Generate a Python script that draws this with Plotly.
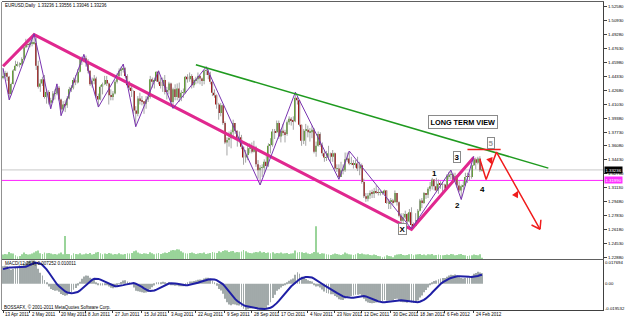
import numpy as np
import pandas as pd
import plotly.graph_objects as go

W, H = 625, 319

# ---------------- data (EUR/USD daily) ----------------
FIRST_OPEN = 1.4420
CLOSE = [
    1.4440, 1.4475, 1.4430, 1.4225, 1.4345, 1.4505, 1.4560, 1.4580, 1.4580, 1.4640, 1.4780, 1.4815, 1.4810,
    1.4830, 1.4830, 1.4830, 1.4560, 1.4310, 1.4350, 1.4400, 1.4190, 1.4250, 1.4120, 1.4150, 1.4230, 1.4230, 1.4300, 1.4160, 1.4040, 1.4100, 1.4090, 1.4170, 1.4280, 1.4300, 1.4390,
    1.4360, 1.4490, 1.4640, 1.4640, 1.4650, 1.4590, 1.4500, 1.4340, 1.4380, 1.4410, 1.4200, 1.4160, 1.4310, 1.4340, 1.4390, 1.4350, 1.4210, 1.4190, 1.4230, 1.4370, 1.4440, 1.4500,
    1.4520, 1.4530, 1.4440, 1.4330, 1.4300, 1.4260, 1.4030, 1.3990, 1.4170, 1.4150, 1.4140, 1.4110, 1.4160, 1.4190, 1.4400, 1.4370, 1.4380, 1.4490, 1.4370, 1.4320, 1.4390,
    1.4250, 1.4270, 1.4350, 1.4130, 1.4280, 1.4190, 1.4290, 1.4180, 1.4240, 1.4240, 1.4430, 1.4400, 1.4440, 1.4330, 1.4390, 1.4400, 1.4440, 1.4410, 1.4380, 1.4500, 1.4500, 1.4450, 1.4370,
    1.4240, 1.4210, 1.4100, 1.4000, 1.4090, 1.3880, 1.3650, 1.3680, 1.3700, 1.3770, 1.3880, 1.3790, 1.3690, 1.3710, 1.3600, 1.3470, 1.3500, 1.3580, 1.3600, 1.3540, 1.3590, 1.3390,
    1.3320, 1.3350, 1.3350, 1.3420, 1.3370, 1.3610, 1.3620, 1.3780, 1.3770, 1.3880, 1.3720, 1.3790, 1.3770, 1.3750, 1.3890, 1.3930, 1.3910, 1.3900, 1.4180, 1.4150, 1.3860,
    1.3670, 1.3790, 1.3800, 1.3770, 1.3770, 1.3800, 1.3540, 1.3610, 1.3750, 1.3620, 1.3520, 1.3470, 1.3470, 1.3520, 1.3480, 1.3520, 1.3340, 1.3340, 1.3240, 1.3320, 1.3320, 1.3450,
    1.3460, 1.3400, 1.3400, 1.3390, 1.3400, 1.3340, 1.3380, 1.3180, 1.3010, 1.2980, 1.3020, 1.3050, 1.3040, 1.3070, 1.3060, 1.3050, 1.3050, 1.3050, 1.3080, 1.2930, 1.2950, 1.2960,
    1.2940, 1.3050, 1.2940, 1.2780, 1.2720, 1.2760, 1.2800, 1.2710, 1.2820, 1.2670, 1.2660, 1.2730, 1.2840, 1.2960, 1.2930, 1.3050, 1.3030, 1.3100, 1.3130, 1.3210, 1.3130, 1.3080,
    1.3160, 1.3150, 1.3150, 1.3110, 1.3250, 1.3270, 1.3270, 1.3200, 1.3250, 1.3140, 1.3080, 1.3130, 1.3140, 1.3240, 1.3250, 1.3240, 1.3380, 1.3450, 1.3410, 1.3460, 1.3320,
    1.33236,
]
HIGH = [
    1.4530, 1.4500, 1.4490, 1.4440, 1.4360, 1.4520, 1.4620, 1.4610, 1.4600, 1.4660, 1.4800, 1.4880, 1.4880,
    1.4880, 1.4880, 1.4940, 1.4900, 1.4620, 1.4400, 1.4430, 1.4450, 1.4280, 1.4270, 1.4180, 1.4260, 1.4280, 1.4345, 1.4320, 1.4170, 1.4140, 1.4150, 1.4200, 1.4310, 1.4330, 1.4420,
    1.4450, 1.4520, 1.4650, 1.4670, 1.4695, 1.4680, 1.4640, 1.4500, 1.4420, 1.4450, 1.4430, 1.4230, 1.4330, 1.4360, 1.4440, 1.4440, 1.4360, 1.4280, 1.4260, 1.4390, 1.4470, 1.4530,
    1.4550, 1.4580, 1.4540, 1.4460, 1.4380, 1.4330, 1.4270, 1.4080, 1.4200, 1.4240, 1.4200, 1.4140, 1.4200, 1.4240, 1.4440, 1.4420, 1.4420, 1.4490, 1.4500, 1.4420, 1.4420,
    1.4450, 1.4310, 1.4370, 1.4360, 1.4300, 1.4340, 1.4350, 1.4360, 1.4270, 1.4290, 1.4440, 1.4460, 1.4480, 1.4460, 1.4410, 1.4430, 1.4480, 1.4450, 1.4420, 1.4510, 1.4548, 1.4520, 1.4490,
    1.4380, 1.4280, 1.4220, 1.4120, 1.4120, 1.4100, 1.3900, 1.3710, 1.3780, 1.3800, 1.3920, 1.3880, 1.3790, 1.3780, 1.3740, 1.3600, 1.3560, 1.3610, 1.3640, 1.3650, 1.3670, 1.3610,
    1.3440, 1.3380, 1.3390, 1.3450, 1.3490, 1.3640, 1.3700, 1.3810, 1.3810, 1.3910, 1.3910, 1.3810, 1.3870, 1.3800, 1.3910, 1.3960, 1.3950, 1.3960, 1.4247, 1.4200, 1.4150,
    1.3860, 1.3810, 1.3870, 1.3850, 1.3820, 1.3850, 1.3820, 1.3660, 1.3780, 1.3770, 1.3650, 1.3560, 1.3550, 1.3610, 1.3530, 1.3560, 1.3530, 1.3390, 1.3390, 1.3420, 1.3390, 1.3530,
    1.3530, 1.3548, 1.3480, 1.3440, 1.3440, 1.3480, 1.3420, 1.3400, 1.3220, 1.3050, 1.3050, 1.3080, 1.3090, 1.3110, 1.3140, 1.3100, 1.3080, 1.3070, 1.3090, 1.3080, 1.2980, 1.2990,
    1.2980, 1.3080, 1.3050, 1.2950, 1.2810, 1.2810, 1.2840, 1.2810, 1.2860, 1.2880, 1.2700, 1.2810, 1.2860, 1.2980, 1.2990, 1.3060, 1.3050, 1.3120, 1.3180, 1.3230, 1.3210, 1.3230,
    1.3210, 1.3190, 1.3180, 1.3160, 1.3270, 1.3300, 1.3322, 1.3290, 1.3290, 1.3260, 1.3190, 1.3150, 1.3190, 1.3290, 1.3290, 1.3280, 1.3400, 1.3486, 1.3470, 1.3480, 1.3486,
    1.33556,
]
LOW = [
    1.4400, 1.4410, 1.4380, 1.4155, 1.4210, 1.4340, 1.4500, 1.4550, 1.4540, 1.4560, 1.4630, 1.4770, 1.4780,
    1.4780, 1.4790, 1.4810, 1.4510, 1.4290, 1.4250, 1.4320, 1.4170, 1.4110, 1.4100, 1.4050, 1.4120, 1.4160, 1.4210, 1.4140, 1.3968, 1.4020, 1.4010, 1.4060, 1.4160, 1.4250, 1.4280,
    1.4330, 1.4350, 1.4480, 1.4570, 1.4600, 1.4550, 1.4470, 1.4320, 1.4300, 1.4340, 1.4180, 1.4070, 1.4150, 1.4220, 1.4330, 1.4320, 1.4100, 1.4150, 1.4150, 1.4220, 1.4350, 1.4420,
    1.4440, 1.4480, 1.4420, 1.4300, 1.4270, 1.4190, 1.3990, 1.3837, 1.3960, 1.4100, 1.4090, 1.3990, 1.4050, 1.4130, 1.4170, 1.4300, 1.4290, 1.4370, 1.4340, 1.4290, 1.4250,
    1.4220, 1.4160, 1.4220, 1.4100, 1.4055, 1.4150, 1.4150, 1.4130, 1.4140, 1.4180, 1.4230, 1.4360, 1.4370, 1.4290, 1.4300, 1.4340, 1.4350, 1.4340, 1.4320, 1.4340, 1.4450, 1.4400, 1.4340,
    1.4200, 1.4180, 1.4050, 1.3920, 1.3960, 1.3860, 1.3630, 1.3495, 1.3600, 1.3580, 1.3720, 1.3750, 1.3600, 1.3640, 1.3570, 1.3385, 1.3410, 1.3440, 1.3520, 1.3520, 1.3530, 1.3360,
    1.3220, 1.3145, 1.3240, 1.3280, 1.3330, 1.3360, 1.3520, 1.3600, 1.3690, 1.3760, 1.3690, 1.3650, 1.3730, 1.3650, 1.3730, 1.3860, 1.3850, 1.3800, 1.3890, 1.4100, 1.3840,
    1.3610, 1.3630, 1.3610, 1.3710, 1.3660, 1.3700, 1.3520, 1.3480, 1.3600, 1.3600, 1.3490, 1.3420, 1.3430, 1.3440, 1.3420, 1.3420, 1.3320, 1.3300, 1.3212, 1.3240, 1.3270, 1.3300,
    1.3420, 1.3380, 1.3380, 1.3340, 1.3350, 1.3310, 1.3260, 1.3160, 1.2990, 1.2945, 1.2950, 1.2980, 1.2990, 1.2990, 1.3040, 1.3020, 1.3020, 1.3030, 1.3040, 1.2920, 1.2860, 1.2860,
    1.2910, 1.2940, 1.2900, 1.2760, 1.2690, 1.2660, 1.2740, 1.2690, 1.2700, 1.2624, 1.2630, 1.2660, 1.2720, 1.2830, 1.2870, 1.2920, 1.2980, 1.2990, 1.3070, 1.3090, 1.3080, 1.3060,
    1.3040, 1.3100, 1.3050, 1.3080, 1.3090, 1.3210, 1.3210, 1.3170, 1.3180, 1.3110, 1.3060, 1.2973, 1.3080, 1.3140, 1.3170, 1.3200, 1.3220, 1.3370, 1.3330, 1.3390, 1.3300,
    1.33046,
]
VOLUME = [
    14, 16, 15, 22, 18, 17, 12, 8, 10, 15, 20, 16, 14,
    15, 17, 20, 24, 26, 18, 16, 20, 18, 19, 17, 15, 16, 14, 17, 20, 15, 70, 16, 16, 12, 18,
    16, 15, 18, 14, 15, 17, 16, 19, 14, 16, 20, 22, 18, 15, 17, 16, 19, 17, 14, 16, 15, 18,
    15, 14, 16, 18, 17, 19, 24, 26, 20, 17, 16, 18, 17, 16, 21, 18, 15, 17, 19, 16, 18,
    20, 19, 22, 26, 28, 27, 30, 29, 24, 20, 18, 17, 19, 20, 18, 16, 17, 19, 18, 20, 16, 17, 19,
    22, 20, 19, 24, 21, 25, 27, 26, 22, 24, 25, 20, 22, 21, 23, 28, 24, 20, 19, 18, 20, 22,
    21, 24, 20, 22, 19, 20, 18, 21, 17, 19, 18, 20, 17, 18, 19, 16, 17, 18, 26, 20, 22,
    21, 19, 20, 17, 16, 18, 22, 100, 20, 16, 18, 17, 15, 14, 13, 15, 17, 16, 14, 13, 15, 20,
    17, 15, 14, 13, 15, 18, 16, 17, 15, 14, 15, 13, 12, 14, 13, 10, 9, 6, 8, 12, 10, 9,
    6, 12, 14, 15, 16, 13, 12, 13, 15, 16, 12, 14, 15, 16, 13, 14, 12, 15, 14, 16, 12, 13,
    14, 13, 12, 13, 14, 13, 16, 15, 12, 13, 15, 16, 13, 12, 10, 11, 12, 14, 13, 12, 15,
    4,
]
# closes before the visible window (Feb 1 - Apr 12 2011), only to warm up the MACD
PRE_CLOSE = [
    1.3800, 1.3830, 1.3720, 1.3590, 1.3610, 1.3660, 1.3690, 1.3570, 1.3530, 1.3460, 1.3500, 1.3550, 1.3600,
    1.3700, 1.3670, 1.3680, 1.3770, 1.3800, 1.3750, 1.3800,
    1.3800, 1.3860, 1.3980, 1.3990, 1.3960, 1.3920, 1.3900, 1.3810, 1.3900, 1.3990, 1.3970, 1.3950, 1.4030,
    1.4180, 1.4180, 1.4170, 1.4080, 1.4210, 1.4090, 1.4090, 1.4120, 1.4090, 1.4160,
    1.4230, 1.4220, 1.4220, 1.4300, 1.4310, 1.4480, 1.4430, 1.4420,
]

DATE_TICKS = ["2011-04-13", "2011-05-02", "2011-05-20", "2011-06-08", "2011-06-27", "2011-07-15",
              "2011-08-03", "2011-08-22", "2011-09-09", "2011-09-28", "2011-10-17", "2011-11-04",
              "2011-11-23", "2011-12-12", "2011-12-30", "2012-01-18", "2012-02-06", "2012-02-24"]
PRICE_TICKS = [1.52580, 1.50930, 1.49280, 1.47630, 1.45980, 1.44330, 1.42680, 1.41030, 1.39380,
               1.37730, 1.36080, 1.34430, 1.32780, 1.31130, 1.29480, 1.27830, 1.26180, 1.24530, 1.22880]
CURRENT_BID = 1.33236
MAGENTA_LEVEL = 1.31990
HEADER = "EURUSD,Daily  1.33236 1.33556 1.33046 1.33236"
MACD_HEADER = "MACD(12,26,9) 0.007252 0.010011"
COPYRIGHT = "BOSSAFX, \u00a9 2001-2011 MetaQuotes Software Corp."

ZZ_DATES = ["2011-04-13", "2011-04-18", "2011-05-04", "2011-05-16", "2011-05-19", "2011-05-23",
            "2011-06-07", "2011-06-16", "2011-07-04", "2011-07-12", "2011-07-27", "2011-08-05",
            "2011-08-29", "2011-10-04", "2011-10-27", "2011-11-25", "2011-12-02", "2012-01-13",
            "2012-02-09", "2012-02-16", "2012-02-24"]
ZZ_PRICES = [1.4530, 1.4155, 1.4940, 1.4050, 1.4345, 1.3968, 1.4695, 1.4070, 1.4580, 1.3837,
             1.4500, 1.4055, 1.4548, 1.3145, 1.4247, 1.3212, 1.3548, 1.2624, 1.3322, 1.2973, 1.3486]
PINK_DATES = ["2011-04-13", "2011-05-04", "2012-01-13", "2012-02-24"]
PINK_PRICES = [1.4555, 1.4930, 1.2619, 1.3471]
GREEN_DATES = ["2011-08-22", "2012-04-16"]
GREEN_PRICES = [1.4572, 1.3345]
RED_DATES = ["2012-02-29", "2012-03-05", "2012-03-12", "2012-04-10"]
RED_PRICES = [1.3450, 1.3211, 1.3535, 1.2619]
RED_LEVEL_DATES = ["2012-02-21", "2012-03-14"]
RED_LEVEL_PRICE = 1.3566

# ---------------- derived positions ----------------
dates = pd.bdate_range("2011-04-13", periods=300)
pos = {d.strftime("%Y-%m-%d"): i for i, d in enumerate(dates)}
n = len(CLOSE)
idx = list(range(n))
opens = [FIRST_OPEN] + CLOSE[:-1]


def px(x):
    return x / W


def py(y):
    return 1 - y / H


# MACD (12,26,9) as MT4 computes it: EMA difference, SMA signal
allc = np.array(PRE_CLOSE + CLOSE, dtype=float)


def ema(a, k):
    al = 2.0 / (k + 1)
    out = np.empty_like(a)
    out[0] = a[0]
    for i in range(1, len(a)):
        out[i] = a[i] * al + out[i - 1] * (1 - al)
    return out


macd_all = ema(allc, 12) - ema(allc, 26)
sig_all = pd.Series(macd_all).rolling(9).mean().values
macd = macd_all[len(PRE_CLOSE):]
sig = sig_all[len(PRE_CLOSE):]
mmax = float(max(macd.max(), np.nanmax(sig)))
mmin = float(min(macd.min(), np.nanmin(sig)))
mspan = mmax - mmin

fig = go.Figure()

# volumes (overlay in the price window)
fig.add_trace(go.Bar(x=idx, y=VOLUME, yaxis="y3", xaxis="x", width=0.42,
                     marker=dict(color="#9ad49a", line=dict(width=0)), hoverinfo="skip"))

# candle wicks
wx, wy = [], []
for i in idx:
    wx += [i, i, None]
    wy += [LOW[i], HIGH[i], None]
fig.add_trace(go.Scatter(x=wx, y=wy, mode="lines", line=dict(color="#a4a4a4", width=1),
                         hoverinfo="skip"))
# candle bodies
body_base = [min(o, c) for o, c in zip(opens, CLOSE)]
body_h = [max(abs(c - o), 0.0004) for o, c in zip(opens, CLOSE)]
body_col = ["#5f9f2f" if c >= o else "#a01818" for o, c in zip(opens, CLOSE)]
fig.add_trace(go.Bar(x=idx, y=body_h, base=body_base, width=0.6,
                     marker=dict(color=body_col, line=dict(width=0)), hoverinfo="skip"))

# drawn objects
fig.add_trace(go.Scatter(x=[pos[d] for d in PINK_DATES], y=PINK_PRICES, mode="lines",
                         line=dict(color="#e0288f", width=3), hoverinfo="skip"))
fig.add_trace(go.Scatter(x=[pos[d] for d in ZZ_DATES], y=ZZ_PRICES, mode="lines",
                         line=dict(color="#7a34b0", width=1), hoverinfo="skip"))
fig.add_trace(go.Scatter(x=[pos[d] for d in GREEN_DATES], y=GREEN_PRICES, mode="lines",
                         line=dict(color="#1f9a1f", width=1.5), hoverinfo="skip"))
fig.add_trace(go.Scatter(x=[pos[d] for d in RED_DATES], y=RED_PRICES, mode="lines",
                         line=dict(color="#f01c1c", width=1.5), hoverinfo="skip"))
fig.add_trace(go.Scatter(x=[pos[d] for d in RED_LEVEL_DATES], y=[RED_LEVEL_PRICE] * 2, mode="lines",
                         line=dict(color="#f01c1c", width=1.5), hoverinfo="skip"))

# MACD window
fig.add_trace(go.Bar(x=idx, y=macd, xaxis="x2", yaxis="y2", width=0.42,
                     marker=dict(color="#a2aaaa", line=dict(width=0)), hoverinfo="skip"))
fig.add_trace(go.Scatter(x=idx, y=sig, xaxis="x2", yaxis="y2", mode="lines",
                         line=dict(color="#1f1fa5", width=2), hoverinfo="skip"))

XDOM = [px(2), px(605)]
XR = [-0.5, 289.4]
PTOP, PBOT = 1.5258 + 5 / 845, 1.5258 - 253 / 845

fig.update_layout(
    width=W, height=H, margin=dict(l=0, r=0, t=0, b=0),
    paper_bgcolor="white", plot_bgcolor="white", showlegend=False, barmode="overlay",
    font=dict(family="Liberation Sans, Arial, sans-serif", color="black"),
    xaxis=dict(domain=XDOM, range=XR, anchor="y", showticklabels=False, showgrid=False,
               zeroline=False, showline=True, linecolor="#606060", linewidth=1, mirror=True,
               ticks=""),
    yaxis=dict(domain=[py(260), py(2)], range=[PBOT, PTOP], side="right", anchor="x",
               tickvals=PRICE_TICKS, ticktext=[f"{v:.5f}" for v in PRICE_TICKS],
               ticks="outside", ticklen=3, tickcolor="#404040", tickfont=dict(size=4.3),
               showgrid=False, zeroline=False, showline=True, linecolor="#404040"),
    yaxis3=dict(overlaying="y", range=[0, 780], visible=False),
    xaxis2=dict(domain=XDOM, range=XR, anchor="y2", matches="x", showgrid=False, zeroline=False,
                showline=True, linecolor="#404040", ticks="outside", ticklen=2, tickcolor="#404040",
                tickvals=[pos[d] for d in DATE_TICKS], showticklabels=False),
    yaxis2=dict(domain=[py(311), py(261)], range=[mmin, mmax], side="right", anchor="x2",
                tickvals=[mmax - mspan * 2.5 / 50, 0, mmin + mspan * 2 / 50],
                ticktext=[f"{mmax:.6f}", "0.00", f"{mmin:.6f}"],
                ticks="", tickfont=dict(size=4.3),
                showgrid=False, zeroline=False, showline=True, linecolor="#404040"),
)

shapes = [
    dict(type="line", xref="paper", yref="y", x0=XDOM[0], x1=XDOM[1], y0=CURRENT_BID,
         y1=CURRENT_BID, line=dict(color="#c8c8c8", width=1), layer="below"),
    dict(type="line", xref="paper", yref="y", x0=XDOM[0], x1=XDOM[1], y0=MAGENTA_LEVEL,
         y1=MAGENTA_LEVEL, line=dict(color="#ff20ff", width=1), layer="below"),
    dict(type="line", xref="paper", yref="paper", x0=px(1.5), x1=px(1.5), y0=py(311), y1=py(2),
         line=dict(color="#909090", width=1)),
]
fig.update_layout(shapes=shapes)

ann = []
small = dict(size=4.5, color="black")
ann.append(dict(text=HEADER, x=px(3), y=py(6), xref="paper", yref="paper", xanchor="left",
                yanchor="middle", showarrow=False, font=small))
ann.append(dict(text=MACD_HEADER, x=px(3), y=py(264.5), xref="paper", yref="paper",
                xanchor="left", yanchor="middle", showarrow=False, font=small))
ann.append(dict(text=COPYRIGHT, x=px(2.5), y=py(307.5), xref="paper", yref="paper",
                xanchor="left", yanchor="middle", showarrow=False, font=small))
for d in DATE_TICKS:
    dt = pd.Timestamp(d)
    ann.append(dict(text=f"{dt.day} {dt.strftime('%b %Y')}", x=pos[d], y=py(315.5), xref="x2",
                    yref="paper", xanchor="left", yanchor="middle", showarrow=False,
                    font=dict(size=4.5, color="black")))
# price labels on the axis
ann.append(dict(text=f"{CURRENT_BID:.5f}", x=px(606), y=CURRENT_BID, xref="paper", yref="y",
                xanchor="left", yanchor="middle", showarrow=False, bgcolor="black",
                borderpad=0.5, font=dict(size=4.3, color="white")))
ann.append(dict(text=f"{MAGENTA_LEVEL:.5f}", x=px(606), y=MAGENTA_LEVEL, xref="paper", yref="y",
                xanchor="left", yanchor="middle", showarrow=False, bgcolor="#ff30ff",
                borderpad=0.5, font=dict(size=4.3, color="white")))

# text objects
ann.append(dict(text="<b>LONG TERM VIEW</b>", x=px(500), y=py(122.5), xref="paper", yref="paper",
                showarrow=False, bgcolor="white", bordercolor="#8a8a8a", borderwidth=1,
                borderpad=1.5, font=dict(size=7.3, color="black")))
for t, x, y, boxed, col in [("1", 440, 174, False, "black"), ("2", 463, 213, False, "black"),
                            ("3", 462, 157, True, "black"), ("4", 489, 190, False, "black"),
                            ("5", 497, 143, True, "#9a9a9a"), ("X", 404, 236, True, "black")]:
    a = dict(text=f"<b>{t}</b>", x=px(x), y=py(y), xref="paper", yref="paper", showarrow=False,
             font=dict(size=8, color=col))
    if boxed:
        a.update(bordercolor="#8a8a8a", borderwidth=1, borderpad=0.5, bgcolor="white")
    ann.append(a)

# arrow marks on the projected red path
rx = [pos[d] for d in RED_DATES]
for (x0, y0, x1, y1, f) in [(rx[1], RED_PRICES[1], rx[2], RED_PRICES[2], 0.55),
                            (rx[2], RED_PRICES[2], rx[3], RED_PRICES[3], 0.5)]:
    hx, hy = x0 + (x1 - x0) * f, y0 + (y1 - y0) * f
    dxp = (x1 - x0) * 2.08
    dyp = -(y1 - y0) * 845
    L = (dxp ** 2 + dyp ** 2) ** 0.5
    ann.append(dict(x=hx, y=hy, xref="x", yref="y", text="", showarrow=True, arrowhead=2,
                    arrowsize=0.9, arrowwidth=1.5, arrowcolor="#f01c1c",
                    ax=-dxp / L * 5, ay=dyp / L * 5))
for axp, ayp in [(-10, -5), (1, -11)]:
    ann.append(dict(x=rx[3], y=RED_PRICES[3], xref="x", yref="y", text="", showarrow=True,
                    arrowhead=0, arrowwidth=1.5, arrowcolor="#f01c1c", ax=axp, ay=ayp))

fig.update_layout(annotations=ann)
fig.write_html("out.html")
